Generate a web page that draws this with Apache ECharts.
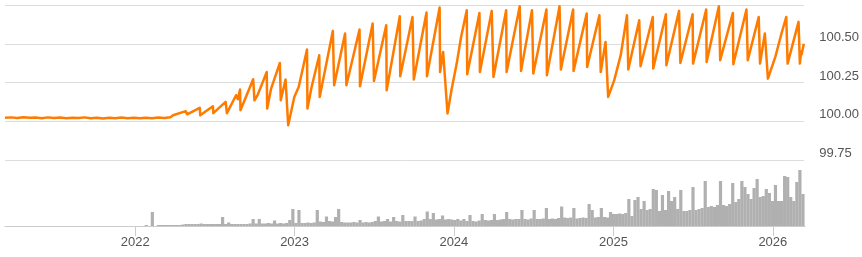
<!DOCTYPE html>
<html><head><meta charset="utf-8">
<script src="https://cdn.jsdelivr.net/npm/echarts@6/dist/echarts.min.js"></script>
<style>html,body{margin:0;padding:0;background:#fff}#c{width:862px;height:257px}</style>
</head><body><div id="c"></div>
<script>
const axisMin = '2021-03-12';
const axisMax = '2026-03-12';

const priceDates = [
'2021-03-12','2021-03-26','2021-04-09','2021-04-23','2021-05-07','2021-05-21','2021-06-04','2021-06-18',
'2021-07-02','2021-07-16','2021-07-30','2021-08-13','2021-08-27','2021-09-10','2021-09-24','2021-10-08',
'2021-10-22','2021-11-05','2021-11-19','2021-12-03','2021-12-17','2021-12-31','2022-01-14','2022-01-28',
'2022-02-11','2022-02-25','2022-03-11','2022-03-25',
'2022-03-31','2022-04-01','2022-04-29','2022-05-02','2022-05-31','2022-06-01','2022-06-30','2022-07-01',
'2022-07-29','2022-08-01','2022-08-22','2022-08-26','2022-08-31','2022-09-01','2022-09-30','2022-10-03',
'2022-10-10','2022-10-31','2022-11-01','2022-11-10','2022-11-30','2022-12-02','2022-12-13','2022-12-19',
'2023-01-02','2023-01-12','2023-01-31','2023-02-01','2023-02-10','2023-02-28','2023-03-01','2023-03-31',
'2023-04-03','2023-04-28','2023-05-01','2023-05-31','2023-06-01','2023-06-30','2023-07-03','2023-07-31',
'2023-08-01','2023-08-31','2023-09-01','2023-09-29','2023-10-02','2023-10-31','2023-11-01','2023-11-30',
'2023-12-01','2023-12-08','2023-12-18','2023-12-27','2024-01-08','2024-01-18','2024-01-31',
'2024-02-01','2024-02-29','2024-03-01','2024-03-28','2024-04-01','2024-04-30','2024-05-01','2024-05-31',
'2024-06-03','2024-06-28','2024-07-01','2024-07-31','2024-08-01','2024-08-30','2024-09-02','2024-09-30',
'2024-10-01','2024-10-31','2024-11-01','2024-11-29','2024-12-02','2024-12-13','2024-12-19',
'2025-01-02','2025-01-17','2025-01-31','2025-02-03','2025-02-28','2025-03-03','2025-03-31','2025-04-01',
'2025-04-30','2025-05-01','2025-05-30','2025-06-02','2025-06-30','2025-07-01','2025-07-31','2025-08-01',
'2025-08-29','2025-09-01','2025-09-30','2025-10-01','2025-10-31','2025-11-03','2025-11-28','2025-12-01',
'2025-12-12','2025-12-19','2026-01-05','2026-01-19','2026-01-30','2026-02-02','2026-02-27','2026-03-02',
'2026-03-05','2026-03-06','2026-03-11'
];
const priceValues = [
100.022,100.025,100.021,100.026,100.022,100.024,100.020,100.025,
100.021,100.024,100.019,100.023,100.021,100.025,100.020,100.023,
100.018,100.022,100.020,100.024,100.019,100.022,100.019,100.023,
100.020,100.024,100.021,100.026,
100.039,100.028,100.065,100.045,100.087,100.039,100.097,100.052,
100.125,100.052,100.168,100.142,100.205,100.071,100.271,100.135,
100.168,100.318,100.082,100.211,100.376,100.135,100.269,99.974,
100.157,100.221,100.463,100.082,100.215,100.426,100.157,100.583,
100.232,100.566,100.232,100.592,100.226,100.630,100.260,100.619,
100.200,100.677,100.290,100.673,100.269,100.701,100.290,100.734,
100.318,100.447,100.050,100.200,100.372,100.544,100.716,
100.303,100.699,100.318,100.712,100.286,100.716,100.318,100.742,
100.325,100.716,100.308,100.721,100.297,100.742,100.334,100.721,
100.325,100.695,100.350,100.684,100.318,100.512,100.157,
100.265,100.430,100.684,100.334,100.652,100.355,100.673,100.340,
100.690,100.361,100.712,100.376,100.690,100.372,100.721,100.383,
100.742,100.394,100.699,100.368,100.721,100.394,100.673,100.372,
100.566,100.275,100.415,100.566,100.673,100.372,100.641,100.372,
100.450,100.430,100.500
];

// weekly volume, first week starting volumeStart
const volumeStart = '2022-01-05';
const volumeValues = [
0,0,0,1,0,14,0,1,1,1,
1,1,1,1,1,1.5,2,2,2,2,
2,2.5,2,2,2,2,2,2,9,2,
3.5,2,2,2,2,2,2,2.5,7,2.5,
7,2.5,2.5,3,2.5,5.5,2.5,3,2.5,3,
6,17,3,16,3,3,3.5,3,3.5,16,
4.5,4,9.5,5,4.5,9,17,4,3.5,3.5,
3.5,4,3.5,6,3.5,4,3.5,4,5,9.5,
4.5,5,7,4.5,9,5,4.5,11,5,5,
5,9.5,5,5.5,7,14.5,7,13,6.5,7,
10.5,6.5,7,6.5,6,7,5.5,7,5,11,
5,4.5,5.5,12,6,5.5,6,12,6,6.5,
7,14,7,6.5,7,7,16,7,6.5,7.5,
16,7,7,7.5,18,7,7.5,7,8,19.5,
8.5,8,8.5,18,7.5,8,8.5,8,22,16,
8.5,9,18,9,8.5,14,12,12,12.5,12,
13,27,10,26,29,17,25,16,17,37,
36,15,31,16,35,25,29,17,36,15,
15,16,39,16,17,18,45,19,20,19,
21,45,21,20,22,43,24,27,45,39,
32,27,38,47,29,30,37,33,25,41,
25,25,50,49,29,25,44,56,32
];

const priceTicks = { min: 99.75, max: 100.75, step: 0.25 };

const priceData = priceDates.map((d, i) => [d, priceValues[i]]);
const startMs = new Date(volumeStart + 'T00:00:00').getTime();
const volumeData = volumeValues.map((v, i) => [startMs + i * 7 * 86400000, v]);

const chart = echarts.init(document.getElementById('c'), null, { renderer: 'canvas' });
chart.setOption({
  animation: false,
  textStyle: { fontFamily: 'Liberation Sans, Arial, sans-serif' },
  grid: [
    { left: 5, right: 57, top: 5, height: 155 },
    { left: 5, right: 57, top: 160, height: 66 }
  ],
  xAxis: [
    { type: 'time', gridIndex: 0, min: axisMin, max: axisMax, show: false, splitLine: { show: false } },
    {
      type: 'time', gridIndex: 1, min: axisMin, max: axisMax,
      minInterval: 365 * 86400000,
      axisLine: { show: true, lineStyle: { color: '#cccccc', width: 1 } },
      axisTick: { show: true, length: 10, lineStyle: { color: '#cccccc' } },
      splitLine: { show: false },
      axisLabel: {
        color: '#555555', fontSize: 13, margin: 10,
        formatter: function (val) {
          const d = new Date(val);
          return (d.getMonth() === 0 && d.getDate() === 1) ? String(d.getFullYear()) : '';
        }
      }
    }
  ],
  yAxis: [
    {
      type: 'value', gridIndex: 0, position: 'right',
      min: priceTicks.min, max: priceTicks.max, interval: priceTicks.step,
      axisLine: { show: false }, axisTick: { show: false },
      splitLine: { show: true, lineStyle: { color: '#dddddd', width: 1 } },
      axisLabel: {
        color: '#555555', fontSize: 13, margin: 15, verticalAlign: 'bottom',
        showMaxLabel: false,
        formatter: v => v.toFixed(2)
      }
    },
    { type: 'value', gridIndex: 1, min: 0, max: 66, show: false, splitLine: { show: false } }
  ],
  series: [
    {
      type: 'bar', xAxisIndex: 1, yAxisIndex: 1, data: volumeData,
      barWidth: 3.2, itemStyle: { color: '#b0b0b0' }, silent: true
    },
    {
      type: 'line', xAxisIndex: 0, yAxisIndex: 0, data: priceData,
      showSymbol: false, symbol: 'none', z: 5,
      lineStyle: { color: '#ff7b00', width: 2.5, join: 'round' }
    }
  ]
});
</script>
</body></html>
